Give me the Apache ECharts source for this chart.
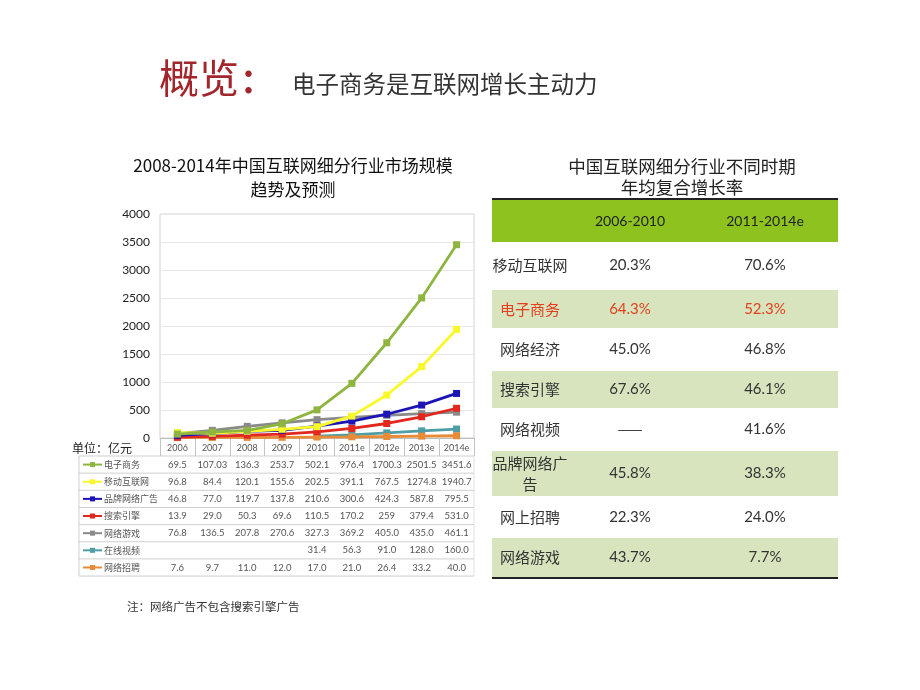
<!DOCTYPE html>
<html><head><meta charset="utf-8">
<script src="https://cdn.jsdelivr.net/npm/echarts@6/dist/echarts.min.js"></script>
<style>html,body{margin:0;padding:0;background:#fff}#c{width:920px;height:690px}</style>
</head><body><div id="c"></div>
<script>
// ---------- data ----------
const categories = ['2006','2007','2008','2009','2010','2011e','2012e','2013e','2014e'];
const seriesNames = ['电子商务','移动互联网','品牌网络广告','搜索引擎','网络游戏','在线视频','网络招聘'];
const ecommerce = ['69.5','107.03','136.3','253.7','502.1','976.4','1700.3','2501.5','3451.6'];
const mobile    = ['96.8','84.4','120.1','155.6','202.5','391.1','767.5','1274.8','1940.7'];
const brandAd   = ['46.8','77.0','119.7','137.8','210.6','300.6','424.3','587.8','795.5'];
const search    = ['13.9','29.0','50.3','69.6','110.5','170.2','259','379.4','531.0'];
const games     = ['76.8','136.5','207.8','270.6','327.3','369.2','405.0','435.0','461.1'];
const video     = [null,null,null,null,'31.4','56.3','91.0','128.0','160.0'];
const recruit   = ['7.6','9.7','11.0','12.0','17.0','21.0','26.4','33.2','40.0'];
const seriesColors = ['#8db53f','#f9f92a','#1c14b4','#e2271f','#8a8a8a','#4f9ea6','#e98b36'];

const growthPeriods = ['2006-2010','2011-2014e'];
const growthIndustries = ['移动互联网','电子商务','网络经济','搜索引擎','网络视频','品牌网络广\n告','网上招聘','网络游戏'];
const growth0610 = ['20.3%','64.3%','45.0%','67.6%','——','45.8%','22.3%','43.7%'];
const growth1114 = ['70.6%','52.3%','46.8%','46.1%','41.6%','38.3%','24.0%','7.7%'];

// ---------- chart ----------
const allSeries = [ecommerce, mobile, brandAd, search, games, video, recruit];
const CJK = "'Noto Sans CJK SC', sans-serif";
const LAT = "Lato, 'Noto Sans CJK SC', sans-serif";
const chart = echarts.init(document.getElementById('c'), null, {renderer:'canvas'});

const order = [4,5,6,3,2,1,0]; // drawing z order
const option = {
  animation:false,
  backgroundColor:'#fff',
  grid:{left:160, top:214, width:314, height:224, show:true, borderColor:'#d2d2d2', borderWidth:1},
  xAxis:{type:'category', data:categories, boundaryGap:true,
    axisLine:{show:true, lineStyle:{color:'#bdbdbd'}},
    axisTick:{show:true, length:18, interval:0, lineStyle:{color:'#c4c4c4'}},
    axisLabel:{fontSize:9, color:'#555', margin:6, interval:0, fontFamily:LAT}},
  yAxis:{type:'value', min:0, max:4000, interval:500,
    axisLine:{show:false}, axisTick:{show:false},
    axisLabel:{fontSize:12, color:'#222', margin:10, fontFamily:LAT, formatter:v=>String(v)},
    splitLine:{lineStyle:{color:'#e8e8e8'}}},
  series: seriesNames.map((n,i)=>({
    name:n, type:'line', data:allSeries[i].map(v=>v===null?null:Number(v)),
    symbol:'rect', symbolSize:7, connectNulls:false,
    z: 2 + order.indexOf(i),
    lineStyle:{width:2.8, color:seriesColors[i]},
    itemStyle:{color:seriesColors[i]}
  }))
};
chart.setOption(option);

// ---------- graphics (titles, tables) ----------
const g = [];
function txt(x,y,s,opt){ g.push({type:'text', silent:true, style:Object.assign({x:x,y:y,text:s,textAlign:'left',textVerticalAlign:'middle',fontFamily:CJK,fontSize:12,fill:'#333'},opt||{})}); }
function line(x1,y1,x2,y2,c,w){ g.push({type:'line', silent:true, shape:{x1:x1,y1:y1,x2:x2,y2:y2}, style:{stroke:c,lineWidth:w||1}}); }
function rect(x,y,w,h,c){ g.push({type:'rect', silent:true, shape:{x:x,y:y,width:w,height:h}, style:{fill:c}}); }

// slide title
txt(159,78,'概览',{fontSize:40,fill:'#a2262b'});
txt(240,80,'：',{fontSize:34,fill:'#a2262b',fontWeight:'bold'});
txt(292,84,'电子商务是互联网增长主动力',{fontSize:23.5,fill:'#333'});
// left chart title
txt(293,166,'2008-2014年中国互联网细分行业市场规模',{fontSize:17,fill:'#111',textAlign:'center'});
txt(293,190,'趋势及预测',{fontSize:17,fill:'#111',textAlign:'center'});
txt(72,448,'单位：亿元',{fontSize:12,fill:'#222'});

// data table below chart
const tL = 79, tR = 474, tTop = 456, rowH = 17.15;
const catX = categories.map(c=>chart.convertToPixel({xAxisIndex:0}, c));
line(tL,tTop,tR,tTop,'#cfcfcf');
line(tL,tTop,tL,tTop+rowH*seriesNames.length,'#cfcfcf');
line(tR,tTop,tR,tTop+rowH*seriesNames.length,'#e2e2e2');
seriesNames.forEach((n,i)=>{
  const yc = tTop + rowH*(i+0.5);
  line(tL,tTop+rowH*(i+1),tR,tTop+rowH*(i+1),'#cfcfcf');
  line(83,yc,102,yc,seriesColors[i],2);
  rect(90,yc-2.5,5,5,seriesColors[i]);
  txt(104,yc,n,{fontSize:9,fill:'#555'});
  allSeries[i].forEach((v,j)=>{ if(v!==null) txt(catX[j],yc,v,{fontSize:9.5,fill:'#555',textAlign:'center',fontFamily:LAT}); });
});
txt(127,607,'注：网络广告不包含搜索引擎广告',{fontSize:11.5,fill:'#333'});

// right table
const rL = 492, rR = 838, c0 = 530, c1 = 630, c2 = 765;
const rowBounds = [242,289,329,370,409,450,497,537,578];
txt(682,166,'中国互联网细分行业不同时期',{fontSize:17.5,fill:'#222',textAlign:'center'});
txt(682,187,'年均复合增长率',{fontSize:17.5,fill:'#222',textAlign:'center'});
rect(rL,199,rR-rL,43,'#8dc21f');
line(rL,199,rR,199,'#222',2);
txt(c1,221,growthPeriods[0],{fontSize:14,fill:'#222',textAlign:'center',fontFamily:LAT});
txt(c2,221,growthPeriods[1],{fontSize:14,fill:'#222',textAlign:'center',fontFamily:LAT});
growthIndustries.forEach((n,i)=>{
  const y0 = rowBounds[i], y1 = rowBounds[i+1], yc=(y0+y1)/2;
  if(i%2===1) rect(rL,y0+1,rR-rL,y1-y0-2,'#d7e4bd');
  const col = i===1 ? '#e2401f' : '#333';
  txt(c0,yc,n,{fontSize:15,fill:col,textAlign:'center',lineHeight:21});
  const fam0 = growth0610[i].indexOf('%')<0 ? CJK : LAT;
  txt(c1,yc,growth0610[i],{fontSize:15,fill:col,textAlign:'center',fontFamily:fam0});
  txt(c2,yc,growth1114[i],{fontSize:15,fill:col,textAlign:'center',fontFamily:LAT});
});
line(rL,578,rR,578,'#222',2);

chart.setOption({graphic:{elements:g}});
</script>
</body></html>
